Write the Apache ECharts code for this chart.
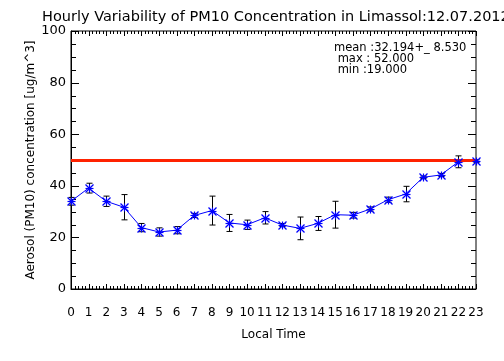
<!DOCTYPE html>
<html>
<head>
<meta charset="utf-8">
<script src="https://cdn.jsdelivr.net/npm/echarts@6/dist/echarts.min.js"></script>
<style>html,body{margin:0;padding:0;background:#fff;}#c{width:504px;height:361px;}</style>
</head>
<body>
<div id="c"></div>
<script>
var hours = [0,1,2,3,4,5,6,7,8,9,10,11,12,13,14,15,16,17,18,19,20,21,22,23];
var pm10 = [34.0, 39.1, 34.0, 31.7, 23.8, 22.1, 22.8, 28.5, 30.4, 25.6, 24.9, 27.6, 24.8, 23.5, 25.4, 28.8, 28.6, 31.0, 34.6, 36.8, 43.3, 44.2, 49.3, 49.6];
var pm10Err = [1.5, 1.9, 2.0, 4.9, 1.6, 1.6, 1.4, 0.8, 5.6, 3.3, 1.8, 2.4, 0.6, 4.4, 2.7, 5.2, 1.1, 0.8, 1.0, 3.0, 0.5, 0.6, 2.3, 0.5];
var limitValue = 50;
var statLines = ['mean :32.194+_ 8.530', ' max : 52.000', ' min :19.000'];
var titleText = 'Hourly Variability of PM10 Concentration in Limassol:12.07.2012';

var FONT = 'DejaVu Sans';
var lineData = hours.map(function(h,i){return [h, pm10[i]];});
var errData = hours.map(function(h,i){return [h, pm10[i]-pm10Err[i], pm10[i]+pm10Err[i]];});

// inward frame ticks (IDL style), placed through the axes' scales
var tickData = [];
for (var k = 0; k <= 23*5; k++) { tickData.push([k/5, 0, 0, k % 5 === 0 ? 1 : 0]); }
for (var m = 0; m <= 100; m += 5) { tickData.push([0, m, 1, m % 20 === 0 ? 1 : 0]); }

var chart = echarts.init(document.getElementById('c'), null, {renderer:'canvas'});
chart.setOption({
  animation:false,
  backgroundColor:'#fff',
  title:{text:titleText, left:37, top:5, textStyle:{fontFamily:FONT, fontSize:14.5, fontWeight:'normal', color:'#000'}},
  grid:{left:71, right:28, top:31, bottom:72, show:true, borderColor:'#000', borderWidth:1, backgroundColor:'transparent'},
  xAxis:{
    type:'value', min:0, max:23, interval:1,
    name:'Local Time', nameLocation:'middle', nameGap:40,
    nameTextStyle:{fontFamily:FONT, fontSize:12, color:'#000'},
    axisLine:{lineStyle:{color:'#000', width:1}},
    axisTick:{show:false}, minorTick:{show:false},
    axisLabel:{fontFamily:FONT, fontSize:12, color:'#000', margin:18},
    splitLine:{show:false}
  },
  yAxis:{
    type:'value', min:0, max:100, interval:20,
    name:'Aerosol (PM10) concentration [ug/m^3]', nameLocation:'middle', nameGap:34, nameMoveOverlap:false,
    nameTextStyle:{fontFamily:FONT, fontSize:12, color:'#000'},
    axisLine:{show:true, lineStyle:{color:'#000', width:1}},
    axisTick:{show:false}, minorTick:{show:false},
    axisLabel:{fontFamily:FONT, fontSize:13, color:'#000', margin:5, padding:[4,0,0,0]},
    splitLine:{show:false}
  },
  graphic:[{
    type:'group', left:334, top:42,
    children: statLines.map(function(t,i){
      return {type:'text', x:0, y:i*11, style:{text:t, font:'11.5px "'+FONT+'"', fill:'#000'}};
    })
  }],
  series:[{
    type:'custom', data:tickData, z:2, silent:true, clip:false,
    renderItem:function(params, api){
      var cs = params.coordSys;
      var isY = api.value(2) === 1, major = api.value(3) === 1;
      var s = {stroke:'#000', lineWidth:1};
      if (!isY) {
        var x = Math.round(api.coord([api.value(0), 0])[0]) + 0.5;
        var L = major ? 5 : 3;
        var yb = cs.y + cs.height, yt = cs.y;
        return {type:'group', children:[
          {type:'line', shape:{x1:x, y1:yb, x2:x, y2:yb-L}, style:s},
          {type:'line', shape:{x1:x, y1:yt, x2:x, y2:yt+L}, style:s}
        ]};
      } else {
        var y = Math.round(api.coord([0, api.value(1)])[1]) + 0.5;
        var L2 = major ? 8 : 5;
        var xl = cs.x, xr = cs.x + cs.width;
        return {type:'group', children:[
          {type:'line', shape:{x1:xl, y1:y, x2:xl+L2, y2:y}, style:s},
          {type:'line', shape:{x1:xr, y1:y, x2:xr-L2, y2:y}, style:s}
        ]};
      }
    }
  },{
    type:'line', data:lineData,
    symbol:'none', lineStyle:{color:'#0000ff', width:1}, z:3,
    markLine:{silent:true, symbol:['none','none'], label:{show:false},
      lineStyle:{color:'#ff2200', width:3, type:'solid'},
      data:[{yAxis:limitValue}]}
  },{
    type:'custom', data:errData, z:4,
    renderItem:function(params, api){
      var lo = api.coord([api.value(0), api.value(1)]);
      var hi = api.coord([api.value(0), api.value(2)]);
      var x = Math.round(lo[0])+0.5;
      var s = {stroke:'#000', lineWidth:1};
      return {type:'group', children:[
        {type:'line', shape:{x1:x, y1:lo[1], x2:x, y2:hi[1]}, style:s},
        {type:'line', shape:{x1:x-3, y1:lo[1], x2:x+3, y2:lo[1]}, style:s},
        {type:'line', shape:{x1:x-3, y1:hi[1], x2:x+3, y2:hi[1]}, style:s}
      ]};
    }
  },{
    type:'custom', data:lineData, z:5, clip:false,
    renderItem:function(params, api){
      var p = api.coord([api.value(0), api.value(1)]);
      var x = Math.round(p[0])+0.5, y = Math.round(p[1])+0.5, r = 4;
      var s = {stroke:'#0000ff', lineWidth:1.2};
      return {type:'group', children:[
        {type:'line', shape:{x1:x, y1:y-r, x2:x, y2:y+r}, style:s},
        {type:'line', shape:{x1:x-r, y1:y, x2:x+r, y2:y}, style:s},
        {type:'line', shape:{x1:x-r, y1:y-r, x2:x+r, y2:y+r}, style:s},
        {type:'line', shape:{x1:x-r, y1:y+r, x2:x+r, y2:y-r}, style:s}
      ]};
    }
  }]
});
</script>
</body>
</html>
